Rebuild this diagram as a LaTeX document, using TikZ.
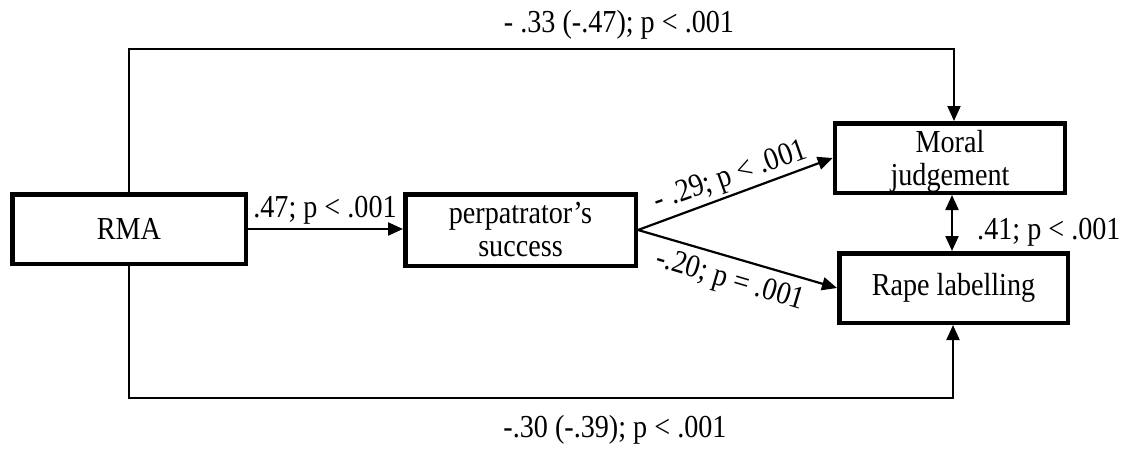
\documentclass[tikz,border=0pt]{standalone}
\usepackage{fontspec}
\setmainfont{Liberation Serif}[FakeStretch=0.88]
\usetikzlibrary{arrows.meta}
\begin{document}
\begin{tikzpicture}[x=1pt,y=-1pt,
  box/.style={draw, line width=4.5pt, inner sep=0pt, align=center, font=\fontsize{32}{33}\selectfont},
  lbl/.style={inner sep=0pt, font=\fontsize{32}{33}\selectfont},
  arr/.style={line width=2.2pt, -{Triangle[length=15pt,width=13pt]}},
  con/.style={line width=2pt}]
\useasboundingbox (0,0) rectangle (1133,455);
\fill[white] (0,0) rectangle (1133,455);
% boxes
\node[box, minimum width=233.5pt, minimum height=69.5pt] (rma) at (129,229) {RMA};
\node[box, minimum width=230.5pt, minimum height=71.5pt] (perp) at (520.5,230) {perpatrator’s\\success};
\node[box, minimum width=230pt, minimum height=69.5pt, font=\fontsize{32}{33}\selectfont, text depth=0pt] (moral) at (950,158) {Moral\\judgement};
\node[box, minimum width=228.5pt, minimum height=69.5pt] (rape) at (953.5,288) {Rape labelling};
% corner coordinates
\coordinate (tl) at (129,49);
\coordinate (tr) at (954,49);
\coordinate (bl) at (129,398);
\coordinate (br) at (953,398);
% connectors
\draw[arr] (rma.east) -- (rma.east -| perp.west);
\draw[arr] (perp.east) -- (moral.west);
\draw[arr] (perp.east) -- (rape.west);
\draw[line width=2.2pt, {Triangle[length=15pt,width=13pt]}-{Triangle[length=15pt,width=13pt]}] (moral.south -| 952,0) -- (rape.north -| 952,0);
\draw[con, -{Triangle[length=15pt,width=13pt]}] (rma.north) -- (tl) -- (tr) -- (tr |- moral.north);
\draw[con, -{Triangle[length=15pt,width=13pt]}] (rma.south) -- (bl) -- (br) -- (br |- rape.south);
% labels
\node[lbl] (ltop) at (619,25) {- .33 (-.47); p < .001};
\node[lbl] (lbot) at (615,430) {-.30 (-.39); p < .001};
\node[lbl] (l47) at (325,210) {.47; p < .001};
\node[lbl, anchor=west] (l41) at (977,232) {.41; p < .001};
\node[lbl, rotate=19.3] (l29) at (731,177) {- .29; p < .001};
\node[lbl, rotate=-16.6] (l20) at (730,281) {-.20; p = .001};
\end{tikzpicture}
\end{document}
